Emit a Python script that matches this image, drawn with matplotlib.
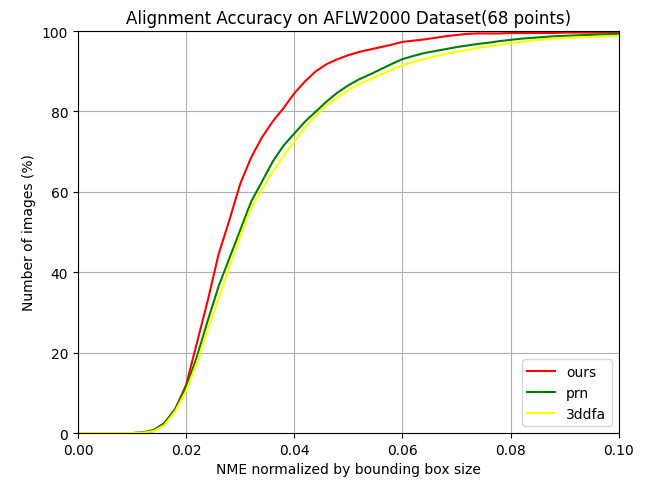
import numpy as np
import matplotlib
matplotlib.use("Agg")
import matplotlib.pyplot as plt

# NME thresholds (0 .. 0.1, step 0.002)
nme = np.round(np.arange(0, 0.1001, 0.002), 3)

ours = [
    0, 0, 0, 0, 0, 0, 0.1, 0.5, 2.5, 6,
    12, 22.5, 33, 44.5, 53, 62, 68.5, 73.5, 77.5, 80.8,
    84.5, 87.5, 90, 91.8, 93, 94, 94.8, 95.4, 96, 96.6,
    97.3, 97.6, 97.9, 98.3, 98.7, 99, 99.3, 99.4, 99.4, 99.4,
    99.5, 99.5, 99.5, 99.5, 99.5, 99.6, 99.6, 99.6, 99.6, 99.6,
    99.6,
]
prn = [
    0, 0, 0, 0, 0, 0, 0.2, 0.8, 2.5, 6,
    11.5, 19, 28, 36.5, 43.5, 50.5, 57.5, 62.5, 67.5, 71.5,
    74.5, 77.5, 80, 82.5, 84.7, 86.5, 88, 89.2, 90.5, 91.8,
    93, 93.8, 94.5, 95, 95.5, 96, 96.4, 96.8, 97.1, 97.5,
    97.8, 98.1, 98.3, 98.5, 98.7, 98.8, 98.9, 99, 99.1, 99.2,
    99.3,
]
ddfa = [
    0, 0, 0, 0, 0, 0, 0.1, 0.5, 2, 5.5,
    10.5, 17.5, 26, 33.5, 41.5, 49, 56, 60.5, 65, 69,
    72.5, 76, 79, 81.5, 83.5, 85.3, 86.8, 88, 89.2, 90.4,
    91.5, 92.3, 93, 93.7, 94.3, 94.8, 95.3, 95.8, 96.2, 96.6,
    97, 97.3, 97.6, 97.9, 98.1, 98.3, 98.4, 98.5, 98.6, 98.7,
    98.8,
]

fig = plt.figure(figsize=(6.5, 4.85), dpi=100)
ax = fig.add_axes([0.12, 0.105, 0.832, 0.829])
ax.plot(nme, ours, color="red", label="ours")
ax.plot(nme, prn, color="green", label="prn")
ax.plot(nme, ddfa, color="yellow", label="3ddfa")
ax.set_xlim(0, 0.1)
ax.set_ylim(0, 100)
ax.grid(True)
ax.set_title("Alignment Accuracy on AFLW2000 Dataset(68 points)", fontsize=12)
ax.set_xlabel("NME normalized by bounding box size")
ax.set_ylabel("Number of images (%)")
ax.legend(loc="lower right")
fig.savefig("out.png", dpi=100)
